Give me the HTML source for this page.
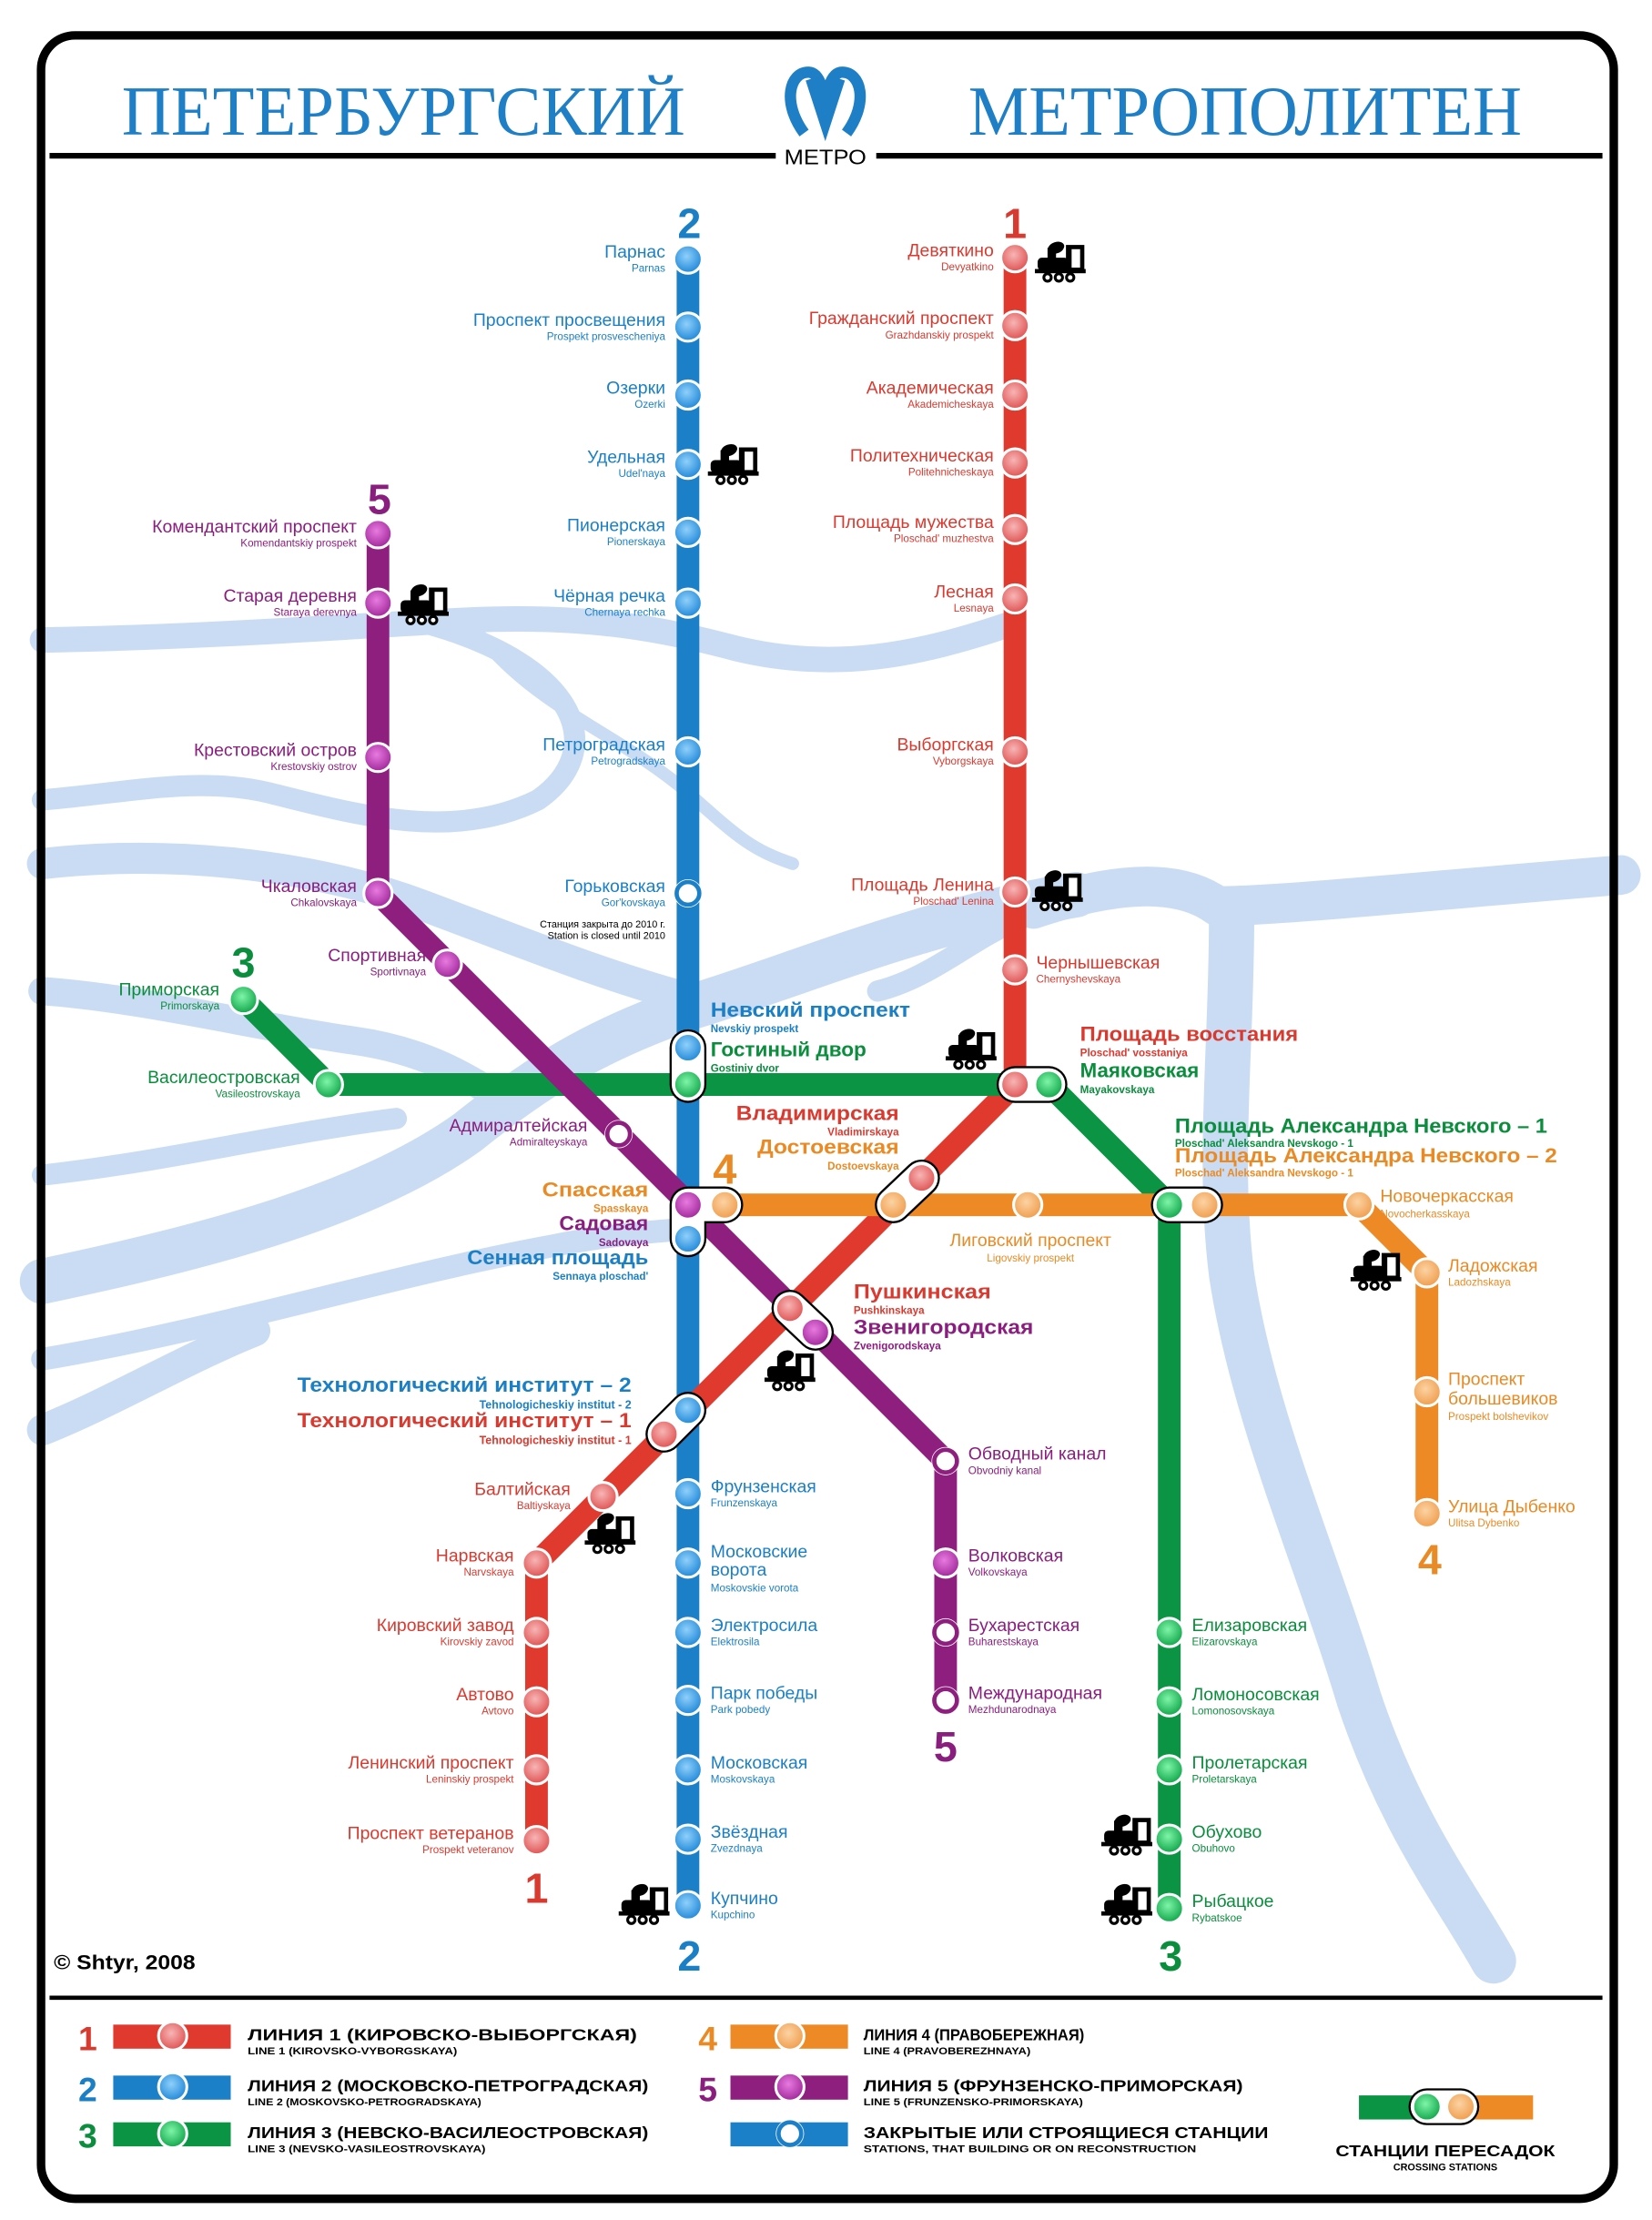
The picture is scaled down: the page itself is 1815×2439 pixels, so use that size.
<!DOCTYPE html>
<html><head><meta charset="utf-8"><style>
html,body{margin:0;padding:0;background:#fff}
svg{display:block}
text{font-family:"Liberation Sans","DejaVu Sans",sans-serif}
.n{font-size:12.5px}
.l{font-size:7.5px}
.b{font-weight:bold}
.R{fill:#d93a30}.B{fill:#1b7fc6}.G{fill:#0a8d3c}.P{fill:#8a1e7e}.O{fill:#ea8a24}
.e{text-anchor:end}.m{text-anchor:middle}
</style></head><body>
<svg width="1815" height="2439" viewBox="0 0 1167 1568" preserveAspectRatio="none" xmlns="http://www.w3.org/2000/svg">
<defs>
<radialGradient id="gR" cx="45%" cy="40%" r="60%"><stop offset="0" stop-color="#f7b5b5"/><stop offset="1" stop-color="#e05252"/></radialGradient>
<radialGradient id="gB" cx="45%" cy="40%" r="60%"><stop offset="0" stop-color="#8fd0fa"/><stop offset="1" stop-color="#1f88d8"/></radialGradient>
<radialGradient id="gG" cx="45%" cy="40%" r="60%"><stop offset="0" stop-color="#7ef5a8"/><stop offset="1" stop-color="#10a54a"/></radialGradient>
<radialGradient id="gP" cx="45%" cy="40%" r="60%"><stop offset="0" stop-color="#e87ae0"/><stop offset="1" stop-color="#a0289a"/></radialGradient>
<radialGradient id="gO" cx="45%" cy="40%" r="60%"><stop offset="0" stop-color="#fbd3a3"/><stop offset="1" stop-color="#f09d4c"/></radialGradient>
<symbol id="tr" viewBox="0 0 36 30">
<ellipse cx="15" cy="5" rx="6" ry="4" fill="#000" transform="rotate(-20 15 5)"/>
<rect x="9" y="5" width="6" height="9" fill="#000"/>
<rect x="2" y="12" width="22" height="9" rx="3" fill="#000"/>
<rect x="22" y="3" width="13" height="19" fill="#000"/>
<rect x="26" y="6" width="6" height="13" fill="#fff"/>
<rect x="0" y="20" width="36" height="3" fill="#000"/>
<circle cx="9" cy="26" r="2.6" fill="#fff" stroke="#000" stroke-width="2"/>
<circle cx="17" cy="26" r="2.6" fill="#fff" stroke="#000" stroke-width="2"/>
<circle cx="25" cy="26" r="2.6" fill="#fff" stroke="#000" stroke-width="2"/>
</symbol>
</defs>

<!-- rivers -->
<g fill="none" stroke="#c9dcf4" stroke-linecap="round" stroke-linejoin="round">
<path d="M30,452 C150,450 250,442 330,438 C420,434 470,445 520,458 C590,475 650,462 710,442" stroke-width="18"/>
<path d="M300,440 C410,470 430,530 380,565 C320,595 250,575 190,560 C140,548 90,560 30,565" stroke-width="15"/>
<path d="M340,450 C380,500 440,520 486,560 C520,590 530,600 560,610" stroke-width="9"/>
<path d="M30,610 C120,600 220,610 300,640 C380,670 430,690 486,705" stroke-width="22"/>
<path d="M760,632 C650,650 560,690 486,712 C420,735 380,760 330,800 C260,850 150,880 30,905" stroke-width="32"/>
<path d="M30,700 C100,705 180,725 250,735 C300,742 330,760 360,780" stroke-width="20"/>
<path d="M30,830 C120,820 200,800 280,790" stroke-width="15"/>
<path d="M30,960 C150,940 280,900 390,880 C430,872 460,870 486,868" stroke-width="16"/>
<path d="M30,1010 C80,990 130,960 180,940" stroke-width="22"/>
<path d="M730,642 C780,625 830,618 860,640 C900,640 1000,630 1145,618" stroke-width="28"/>
<path d="M870,650 C870,740 860,820 870,900 C885,1000 930,1100 960,1200 C990,1290 1030,1340 1055,1385" stroke-width="32"/>
<path d="M620,700 C660,690 690,660 720,650" stroke-width="15"/>
</g>

<!-- frame -->
<rect x="29" y="25" width="1111" height="1528" rx="24" fill="none" stroke="#000" stroke-width="6"/>
<line x1="35" y1="110" x2="548" y2="110" stroke="#000" stroke-width="4"/>
<line x1="619" y1="110" x2="1132" y2="110" stroke="#000" stroke-width="4"/>
<line x1="35" y1="1411" x2="1132" y2="1411" stroke="#000" stroke-width="3"/>

<!-- title -->
<text x="86" y="95" textLength="398" lengthAdjust="spacingAndGlyphs" style="font-family:'Liberation Serif',serif;font-size:50px" fill="#1f7fc6">ПЕТЕРБУРГСКИЙ</text>
<text x="684" y="95" textLength="391" lengthAdjust="spacingAndGlyphs" style="font-family:'Liberation Serif',serif;font-size:50px" fill="#1f7fc6">МЕТРОПОЛИТЕН</text>
<path d="M568,94 C552,72 558,51 571,51 C580,51 583,68 583,80 C583,68 586,51 595,51 C608,51 614,72 598,94" fill="none" stroke="#1f7fc6" stroke-width="8"/>
<path d="M572,56 L583,90 L594,56" fill="none" stroke="#1f7fc6" stroke-width="6"/>
<text x="583" y="116" class="m" style="font-size:15px" textLength="58" lengthAdjust="spacingAndGlyphs" fill="#000">МЕТРО</text>

<!-- lines -->
<g fill="none" stroke-width="16" stroke-linejoin="miter">
<path d="M486,180 V1348" stroke="#1c80c9"/>
<path d="M717,180 V766 L379,1104 V1302" stroke="#e0392e"/>
<path d="M172,706 L232,766 H741 L826,851 V1350" stroke="#0b9443"/>
<path d="M512,851 H960 L1008,899 V1071" stroke="#ee8a25"/>
<path d="M267,375 V631 L668,1032 V1203" stroke="#8e1f7e"/>
</g>

<!-- interchange pills -->
<g fill="none" stroke-linecap="round" stroke-linejoin="round">
<g stroke="#000" stroke-width="26">
<path d="M486,740 V766"/><path d="M717,766 H741"/><path d="M651,832 L631,851"/>
<path d="M486,875 V851 H512"/><path d="M558,924 L576,941"/><path d="M486,996 L469,1013"/><path d="M826,851 H851"/>
</g>
<g stroke="#fff" stroke-width="23">
<path d="M486,740 V766"/><path d="M717,766 H741"/><path d="M651,832 L631,851"/>
<path d="M486,875 V851 H512"/><path d="M558,924 L576,941"/><path d="M486,996 L469,1013"/><path d="M826,851 H851"/>
</g>
</g>

<!-- stations -->
<g stroke="#fff" stroke-width="2">
<g fill="url(#gB)">
<circle cx="486" cy="183" r="10"/><circle cx="486" cy="231" r="10"/><circle cx="486" cy="279" r="10"/><circle cx="486" cy="328" r="10"/><circle cx="486" cy="376" r="10"/><circle cx="486" cy="426" r="10"/><circle cx="486" cy="531" r="10"/><circle cx="486" cy="740" r="10"/><circle cx="486" cy="875" r="10"/><circle cx="486" cy="996" r="10"/><circle cx="486" cy="1055" r="10"/><circle cx="486" cy="1104" r="10"/><circle cx="486" cy="1153" r="10"/><circle cx="486" cy="1201" r="10"/><circle cx="486" cy="1250" r="10"/><circle cx="486" cy="1299" r="10"/><circle cx="486" cy="1346" r="10"/>
</g>
<g fill="url(#gR)">
<circle cx="717" cy="182" r="10"/><circle cx="717" cy="230" r="10"/><circle cx="717" cy="279" r="10"/><circle cx="717" cy="327" r="10"/><circle cx="717" cy="374" r="10"/><circle cx="717" cy="423" r="10"/><circle cx="717" cy="531" r="10"/><circle cx="717" cy="630" r="10"/><circle cx="717" cy="685" r="10"/><circle cx="717" cy="766" r="10"/><circle cx="651" cy="832" r="10"/><circle cx="558" cy="924" r="10"/><circle cx="469" cy="1013" r="10"/><circle cx="426" cy="1057" r="10"/><circle cx="379" cy="1104" r="10"/><circle cx="379" cy="1153" r="10"/><circle cx="379" cy="1202" r="10"/><circle cx="379" cy="1250" r="10"/><circle cx="379" cy="1300" r="10"/>
</g>
<g fill="url(#gG)">
<circle cx="172" cy="706" r="10"/><circle cx="232" cy="766" r="10"/><circle cx="486" cy="766" r="10"/><circle cx="741" cy="766" r="10"/><circle cx="826" cy="851" r="10"/><circle cx="826" cy="1153" r="10"/><circle cx="826" cy="1202" r="10"/><circle cx="826" cy="1250" r="10"/><circle cx="826" cy="1299" r="10"/><circle cx="826" cy="1348" r="10"/>
</g>
<g fill="url(#gO)">
<circle cx="512" cy="851" r="10"/><circle cx="631" cy="851" r="10"/><circle cx="726" cy="851" r="10"/><circle cx="851" cy="851" r="10"/><circle cx="960" cy="851" r="10"/><circle cx="1008" cy="899" r="10"/><circle cx="1008" cy="983" r="10"/><circle cx="1008" cy="1069" r="10"/>
</g>
<g fill="url(#gP)">
<circle cx="267" cy="377" r="10"/><circle cx="267" cy="426" r="10"/><circle cx="267" cy="535" r="10"/><circle cx="267" cy="631" r="10"/><circle cx="316" cy="681" r="10"/><circle cx="486" cy="851" r="10"/><circle cx="576" cy="941" r="10"/><circle cx="668" cy="1104" r="10"/>
</g>
</g>
<circle cx="486" cy="631" r="10" fill="#fff"/>
<circle cx="486" cy="631" r="8" fill="#fff" stroke="#1c80c9" stroke-width="3"/>
<circle cx="437" cy="801" r="10" fill="#fff"/>
<circle cx="437" cy="801" r="8" fill="#fff" stroke="#8e1f7e" stroke-width="3"/>
<circle cx="668" cy="1032" r="10" fill="#fff"/>
<circle cx="668" cy="1032" r="8" fill="#fff" stroke="#8e1f7e" stroke-width="3"/>
<circle cx="668" cy="1153" r="10" fill="#fff"/>
<circle cx="668" cy="1153" r="8" fill="#fff" stroke="#8e1f7e" stroke-width="3"/>
<circle cx="668" cy="1201" r="10" fill="#fff"/>
<circle cx="668" cy="1201" r="8" fill="#fff" stroke="#8e1f7e" stroke-width="3"/>

<!-- trains -->
<use href="#tr" x="500" y="313" width="36" height="30"/>
<use href="#tr" x="731" y="170" width="36" height="30"/>
<use href="#tr" x="281" y="412" width="36" height="30"/>
<use href="#tr" x="729" y="614" width="36" height="30"/>
<use href="#tr" x="668" y="726" width="36" height="30"/>
<use href="#tr" x="954" y="882" width="36" height="30"/>
<use href="#tr" x="540" y="953" width="36" height="30"/>
<use href="#tr" x="413" y="1068" width="36" height="30"/>
<use href="#tr" x="437" y="1330" width="36" height="30"/>
<use href="#tr" x="778" y="1281" width="36" height="30"/>
<use href="#tr" x="778" y="1330" width="36" height="30"/>

<!-- line numbers -->
<g class="b m" style="font-size:30px">
<text x="487" y="168" class="B">2</text>
<text x="717" y="168" class="R">1</text>
<text x="268" y="363" class="P">5</text>
<text x="172" y="690" class="G">3</text>
<text x="512" y="836" class="O">4</text>
<text x="379" y="1344" class="R">1</text>
<text x="487" y="1392" class="B">2</text>
<text x="827" y="1392" class="G">3</text>
<text x="668" y="1244" class="P">5</text>
<text x="1010" y="1112" class="O">4</text>
</g>

<!-- line 2 labels -->
<g class="B e">
<text x="470" y="182" class="n">Парнас</text><text x="470" y="192" class="l">Parnas</text>
<text x="470" y="230" class="n">Проспект просвещения</text><text x="470" y="240" class="l">Prospekt prosvescheniya</text>
<text x="470" y="278" class="n">Озерки</text><text x="470" y="288" class="l">Ozerki</text>
<text x="470" y="327" class="n">Удельная</text><text x="470" y="337" class="l">Udel'naya</text>
<text x="470" y="375" class="n">Пионерская</text><text x="470" y="385" class="l">Pionerskaya</text>
<text x="470" y="425" class="n">Чёрная речка</text><text x="470" y="435" class="l">Chernaya rechka</text>
<text x="470" y="530" class="n">Петроградская</text><text x="470" y="540" class="l">Petrogradskaya</text>
<text x="470" y="630" class="n">Горьковская</text><text x="470" y="640" class="l">Gor'kovskaya</text>
<text x="470" y="655" style="font-size:7px;fill:#000">Станция закрыта до 2010 г.</text>
<text x="470" y="663" style="font-size:7px;fill:#000">Station is closed until 2010</text>
</g>
<g class="B">
<text x="502" y="1054" class="n">Фрунзенская</text><text x="502" y="1064" class="l">Frunzenskaya</text>
<text x="502" y="1100" class="n">Московские</text><text x="502" y="1113" class="n">ворота</text><text x="502" y="1124" class="l">Moskovskie vorota</text>
<text x="502" y="1152" class="n">Электросила</text><text x="502" y="1162" class="l">Elektrosila</text>
<text x="502" y="1200" class="n">Парк победы</text><text x="502" y="1210" class="l">Park pobedy</text>
<text x="502" y="1249" class="n">Московская</text><text x="502" y="1259" class="l">Moskovskaya</text>
<text x="502" y="1298" class="n">Звёздная</text><text x="502" y="1308" class="l">Zvezdnaya</text>
<text x="502" y="1345" class="n">Купчино</text><text x="502" y="1355" class="l">Kupchino</text>
</g>

<!-- line 1 labels -->
<g class="R e">
<text x="702" y="181" class="n">Девяткино</text><text x="702" y="191" class="l">Devyatkino</text>
<text x="702" y="229" class="n">Гражданский проспект</text><text x="702" y="239" class="l">Grazhdanskiy prospekt</text>
<text x="702" y="278" class="n">Академическая</text><text x="702" y="288" class="l">Akademicheskaya</text>
<text x="702" y="326" class="n">Политехническая</text><text x="702" y="336" class="l">Politehnicheskaya</text>
<text x="702" y="373" class="n">Площадь мужества</text><text x="702" y="383" class="l">Ploschad' muzhestva</text>
<text x="702" y="422" class="n">Лесная</text><text x="702" y="432" class="l">Lesnaya</text>
<text x="702" y="530" class="n">Выборгская</text><text x="702" y="540" class="l">Vyborgskaya</text>
<text x="702" y="629" class="n">Площадь Ленина</text><text x="702" y="639" class="l">Ploschad' Lenina</text>
<text x="403" y="1056" class="n">Балтийская</text><text x="403" y="1066" class="l">Baltiyskaya</text>
<text x="363" y="1103" class="n">Нарвская</text><text x="363" y="1113" class="l">Narvskaya</text>
<text x="363" y="1152" class="n">Кировский завод</text><text x="363" y="1162" class="l">Kirovskiy zavod</text>
<text x="363" y="1201" class="n">Автово</text><text x="363" y="1211" class="l">Avtovo</text>
<text x="363" y="1249" class="n">Ленинский проспект</text><text x="363" y="1259" class="l">Leninskiy prospekt</text>
<text x="363" y="1299" class="n">Проспект ветеранов</text><text x="363" y="1309" class="l">Prospekt veteranov</text>
</g>
<g class="R"><text x="732" y="684" class="n">Чернышевская</text><text x="732" y="694" class="l">Chernyshevskaya</text></g>

<!-- line 5 labels -->
<g class="P e">
<text x="252" y="376" class="n">Комендантский проспект</text><text x="252" y="386" class="l">Komendantskiy prospekt</text>
<text x="252" y="425" class="n">Старая деревня</text><text x="252" y="435" class="l">Staraya derevnya</text>
<text x="252" y="534" class="n">Крестовский остров</text><text x="252" y="544" class="l">Krestovskiy ostrov</text>
<text x="252" y="630" class="n">Чкаловская</text><text x="252" y="640" class="l">Chkalovskaya</text>
<text x="301" y="679" class="n">Спортивная</text><text x="301" y="689" class="l">Sportivnaya</text>
<text x="415" y="799" class="n">Адмиралтейская</text><text x="415" y="809" class="l">Admiralteyskaya</text>
</g>
<g class="P">
<text x="684" y="1031" class="n">Обводный канал</text><text x="684" y="1041" class="l">Obvodniy kanal</text>
<text x="684" y="1103" class="n">Волковская</text><text x="684" y="1113" class="l">Volkovskaya</text>
<text x="684" y="1152" class="n">Бухарестская</text><text x="684" y="1162" class="l">Buharestskaya</text>
<text x="684" y="1200" class="n">Международная</text><text x="684" y="1210" class="l">Mezhdunarodnaya</text>
</g>

<!-- line 3 labels -->
<g class="G e">
<text x="155" y="703" class="n">Приморская</text><text x="155" y="713" class="l">Primorskaya</text>
<text x="212" y="765" class="n">Василеостровская</text><text x="212" y="775" class="l">Vasileostrovskaya</text>
</g>
<g class="G">
<text x="842" y="1152" class="n">Елизаровская</text><text x="842" y="1162" class="l">Elizarovskaya</text>
<text x="842" y="1201" class="n">Ломоносовская</text><text x="842" y="1211" class="l">Lomonosovskaya</text>
<text x="842" y="1249" class="n">Пролетарская</text><text x="842" y="1259" class="l">Proletarskaya</text>
<text x="842" y="1298" class="n">Обухово</text><text x="842" y="1308" class="l">Obuhovo</text>
<text x="842" y="1347" class="n">Рыбацкое</text><text x="842" y="1357" class="l">Rybatskoe</text>
</g>

<!-- line 4 labels -->
<g class="O">
<text x="975" y="849" class="n">Новочеркасская</text><text x="975" y="860" class="l">Novocherkasskaya</text>
<text x="1023" y="898" class="n">Ладожская</text><text x="1023" y="908" class="l">Ladozhskaya</text>
<text x="1023" y="978" class="n">Проспект</text><text x="1023" y="992" class="n">большевиков</text><text x="1023" y="1003" class="l">Prospekt bolshevikov</text>
<text x="1023" y="1068" class="n">Улица Дыбенко</text><text x="1023" y="1078" class="l">Ulitsa Dybenko</text>
<text x="728" y="880" class="n m">Лиговский проспект</text><text x="728" y="891" class="l m">Ligovskiy prospekt</text>
</g>

<!-- interchange labels -->
<g class="b">
<text x="502" y="718" class="B" style="font-size:14.5px" textLength="141" lengthAdjust="spacingAndGlyphs">Невский проспект</text>
<text x="502" y="729" class="B" style="font-size:7.5px">Nevskiy prospekt</text>
<text x="502" y="746" class="G" style="font-size:14.5px" textLength="110" lengthAdjust="spacingAndGlyphs">Гостиный двор</text>
<text x="502" y="757" class="G" style="font-size:7.5px">Gostiniy dvor</text>
<text x="763" y="735" class="R" style="font-size:14.5px" textLength="154" lengthAdjust="spacingAndGlyphs">Площадь восстания</text>
<text x="763" y="746" class="R" style="font-size:7.5px">Ploschad' vosstaniya</text>
<text x="763" y="761" class="G" style="font-size:14.5px" textLength="84" lengthAdjust="spacingAndGlyphs">Маяковская</text>
<text x="763" y="772" class="G" style="font-size:7.5px">Mayakovskaya</text>
<text x="830" y="800" class="G" style="font-size:14.5px" textLength="263" lengthAdjust="spacingAndGlyphs">Площадь Александра Невского – 1</text>
<text x="830" y="810" class="G" style="font-size:7.5px">Ploschad' Aleksandra Nevskogo - 1</text>
<text x="830" y="821" class="O" style="font-size:14.5px" textLength="270" lengthAdjust="spacingAndGlyphs">Площадь Александра Невского – 2</text>
<text x="830" y="831" class="O" style="font-size:7.5px">Ploschad' Aleksandra Nevskogo - 1</text>
<text x="635" y="791" class="R e" style="font-size:14.5px" textLength="115" lengthAdjust="spacingAndGlyphs">Владимирская</text>
<text x="635" y="802" class="R e" style="font-size:7.5px">Vladimirskaya</text>
<text x="635" y="815" class="O e" style="font-size:14.5px" textLength="100" lengthAdjust="spacingAndGlyphs">Достоевская</text>
<text x="635" y="826" class="O e" style="font-size:7.5px">Dostoevskaya</text>
<text x="458" y="845" class="O e" style="font-size:14.5px" textLength="75" lengthAdjust="spacingAndGlyphs">Спасская</text>
<text x="458" y="856" class="O e" style="font-size:7.5px">Spasskaya</text>
<text x="458" y="869" class="P e" style="font-size:14.5px" textLength="63" lengthAdjust="spacingAndGlyphs">Садовая</text>
<text x="458" y="880" class="P e" style="font-size:7.5px">Sadovaya</text>
<text x="458" y="893" class="B e" style="font-size:14.5px" textLength="128" lengthAdjust="spacingAndGlyphs">Сенная площадь</text>
<text x="458" y="904" class="B e" style="font-size:7.5px">Sennaya ploschad'</text>
<text x="603" y="917" class="R" style="font-size:14.5px" textLength="97" lengthAdjust="spacingAndGlyphs">Пушкинская</text>
<text x="603" y="928" class="R" style="font-size:7.5px">Pushkinskaya</text>
<text x="603" y="942" class="P" style="font-size:14.5px" textLength="127" lengthAdjust="spacingAndGlyphs">Звенигородская</text>
<text x="603" y="953" class="P" style="font-size:7.5px">Zvenigorodskaya</text>
<text x="446" y="983" class="B e" style="font-size:14.5px" textLength="236" lengthAdjust="spacingAndGlyphs">Технологический институт – 2</text>
<text x="446" y="995" class="B e" style="font-size:8px">Tehnologicheskiy institut - 2</text>
<text x="446" y="1008" class="R e" style="font-size:14.5px" textLength="236" lengthAdjust="spacingAndGlyphs">Технологический институт – 1</text>
<text x="446" y="1020" class="R e" style="font-size:8px">Tehnologicheskiy institut - 1</text>
</g>

<text x="38" y="1391" class="b" style="font-size:14px" fill="#000" textLength="100" lengthAdjust="spacingAndGlyphs">© Shtyr, 2008</text>

<!-- legend -->
<g class="b" style="font-size:24px">
<text x="62" y="1448" class="R m">1</text>
<text x="62" y="1484" class="B m">2</text>
<text x="62" y="1517" class="G m">3</text>
<text x="500" y="1448" class="O m">4</text>
<text x="500" y="1484" class="P m">5</text>
</g>
<g>
<rect x="80" y="1430" width="83" height="17" fill="#e0392e"/>
<rect x="80" y="1466" width="83" height="17" fill="#1c80c9"/>
<rect x="80" y="1499" width="83" height="17" fill="#0b9443"/>
<rect x="516" y="1430" width="83" height="17" fill="#ee8a25"/>
<rect x="516" y="1466" width="83" height="17" fill="#8e1f7e"/>
<rect x="516" y="1499" width="83" height="17" fill="#1c80c9"/>
<rect x="960" y="1480" width="45" height="17" fill="#0b9443"/>
<rect x="1040" y="1480" width="43" height="17" fill="#ee8a25"/>
<path d="M1008,1488 H1032" stroke="#000" stroke-width="26" stroke-linecap="round"/>
<path d="M1008,1488 H1032" stroke="#fff" stroke-width="23" stroke-linecap="round"/>
<g stroke="#fff" stroke-width="2">
<circle cx="122" cy="1438" r="10" fill="url(#gR)"/>
<circle cx="122" cy="1474" r="10" fill="url(#gB)"/>
<circle cx="122" cy="1507" r="10" fill="url(#gG)"/>
<circle cx="558" cy="1438" r="10" fill="url(#gO)"/>
<circle cx="558" cy="1474" r="10" fill="url(#gP)"/>
<circle cx="1008" cy="1488" r="10" fill="url(#gG)"/>
<circle cx="1032" cy="1488" r="10" fill="url(#gO)"/>
</g>
<circle cx="558" cy="1507" r="10" fill="#fff"/>
<circle cx="558" cy="1507" r="8" fill="#fff" stroke="#1c80c9" stroke-width="3"/>
</g>
<g class="b" fill="#000">
<text x="175" y="1441" style="font-size:11.5px" textLength="275" lengthAdjust="spacingAndGlyphs">ЛИНИЯ 1 (КИРОВСКО-ВЫБОРГСКАЯ)</text>
<text x="175" y="1451" style="font-size:7px" textLength="148" lengthAdjust="spacingAndGlyphs">LINE 1 (KIROVSKO-VYBORGSKAYA)</text>
<text x="175" y="1477" style="font-size:11.5px" textLength="283" lengthAdjust="spacingAndGlyphs">ЛИНИЯ 2 (МОСКОВСКО-ПЕТРОГРАДСКАЯ)</text>
<text x="175" y="1487" style="font-size:7px" textLength="165" lengthAdjust="spacingAndGlyphs">LINE 2 (MOSKOVSKO-PETROGRADSKAYA)</text>
<text x="175" y="1510" style="font-size:11.5px" textLength="283" lengthAdjust="spacingAndGlyphs">ЛИНИЯ 3 (НЕВСКО-ВАСИЛЕОСТРОВСКАЯ)</text>
<text x="175" y="1520" style="font-size:7px" textLength="168" lengthAdjust="spacingAndGlyphs">LINE 3 (NEVSKO-VASILEOSTROVSKAYA)</text>
<text x="610" y="1441" style="font-size:11.5px" textLength="156" lengthAdjust="spacingAndGlyphs">ЛИНИЯ 4 (ПРАВОБЕРЕЖНАЯ)</text>
<text x="610" y="1451" style="font-size:7px" textLength="118" lengthAdjust="spacingAndGlyphs">LINE 4 (PRAVOBEREZHNAYA)</text>
<text x="610" y="1477" style="font-size:11.5px" textLength="268" lengthAdjust="spacingAndGlyphs">ЛИНИЯ 5 (ФРУНЗЕНСКО-ПРИМОРСКАЯ)</text>
<text x="610" y="1487" style="font-size:7px" textLength="155" lengthAdjust="spacingAndGlyphs">LINE 5 (FRUNZENSKO-PRIMORSKAYA)</text>
<text x="610" y="1510" style="font-size:11.5px" textLength="286" lengthAdjust="spacingAndGlyphs">ЗАКРЫТЫЕ ИЛИ СТРОЯЩИЕСЯ СТАНЦИИ</text>
<text x="610" y="1520" style="font-size:7px" textLength="235" lengthAdjust="spacingAndGlyphs">STATIONS, THAT BUILDING OR ON RECONSTRUCTION</text>
<text x="1021" y="1523" class="m" style="font-size:11.5px" textLength="155" lengthAdjust="spacingAndGlyphs">СТАНЦИИ ПЕРЕСАДОК</text>
<text x="1021" y="1533" class="m" style="font-size:7px">CROSSING STATIONS</text>
</g>
</svg>
</body></html>
